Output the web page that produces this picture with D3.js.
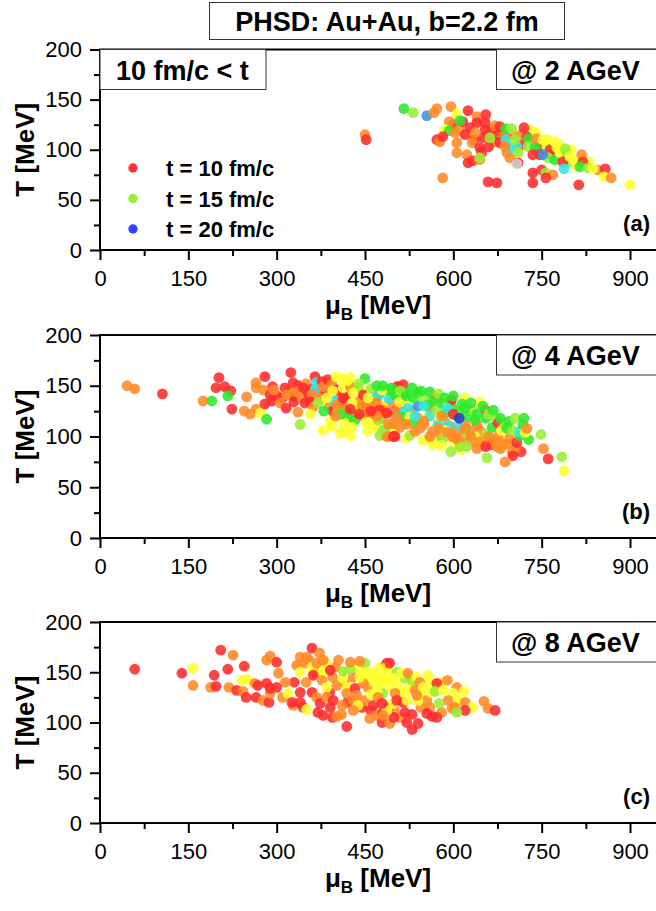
<!DOCTYPE html>
<html><head><meta charset="utf-8">
<script src="https://cdn.jsdelivr.net/npm/d3@7/dist/d3.min.js"></script>
<style>
body{margin:0;background:#fff}
svg{display:block;font-family:"Liberation Sans",Arial,sans-serif}
</style>
</head><body>
<svg id="chart" width="656" height="911"></svg>
<script>
// ---- data ----
// time steps (fm/c) used to colour the cells; 25 = grey cell
const timeSteps = [10, 12, 14, 15, 16, 18, 19, 20, 25];
const timeColors = ["#ff2b2b", "#ff8a26", "#ffff2e", "#99ee33", "#2ee82e", "#33e6e6", "#3a95e0", "#1e3ccc", "#cfcfcf"];
const xTicks = [0, 150, 300, 450, 600, 750, 900];
const xMinor = [75, 225, 375, 525, 675, 825];
const yTicks = [0, 50, 100, 150, 200];
const yMinor = [25, 75, 125, 175];
const legendTimes = [10, 15, 20];
const legendColors = ["#ff3333", "#99ee33", "#3344ff"];
const legendLabels = ["t = 10 fm/c", "t = 15 fm/c", "t = 20 fm/c"];
const energies = ["@ 2 AGeV", "@ 4 AGeV", "@ 8 AGeV"];
const tags = ["(a)", "(b)", "(c)"];

// [mu_B (MeV), T (MeV), t (fm/c)]
const panelA = [[600,125,10],[610,120,12],[620,115,10],[628,122,10],[635,110,10],[650,112,10],[665,120,10],[670,108,12],[675,115,10],[690,115,10],[700,115,12],[715,105,10],[715,115,12],[730,120,14],[740,117,14],[745,102,10],[760,110,14],[765,95,10],[780,105,14],[800,100,14],[795,88,15],[830,88,14],[845,80,12],
[516,141,16],[532,137,15],[555,134,19],[567,137,12],[572,141,12],[596,143,12],[606,136,14],[593,128,12],[625,139,10],[640,133,12],[655,135,10],[616,128,10],[611,129,16],[586,120,14],[593,119,16],[572,110,10],[577,108,12],[582,113,10],[603,117,12],[606,107,12],[606,97,12],[623,95,12],[625,87,10],[633,89,10],[632,107,12],[645,102,10],[648,97,10],[645,90,12],[645,92,15],[660,103,10],[640,127,10],[654,127,10],[654,120,10],[637,117,12],[659,114,10],[662,112,15],[671,124,12],[679,123,10],[684,113,12],[679,107,10],[691,97,12],[696,92,12],[710,87,10],[708,86,25],[689,121,16],[699,121,15],[720,122,10],[689,110,18],[698,102,18],[708,103,18],[705,110,15],[710,97,15],[688,103,12],[725,113,10],[727,111,16],[727,103,15],[739,103,16],[735,95,10],[741,111,12],[747,95,10],[752,110,14],[759,103,14],[764,100,10],[772,108,14],[776,102,14],[761,92,15],[772,90,16],[781,97,14],[790,101,15],[793,95,15],[786,88,10],[798,93,14],[807,89,14],[810,83,14],[788,81,18],[818,95,12],[820,88,10],[815,83,16],[829,82,15],[837,81,14],[858,81,10],[856,73,14],[868,72,12],[900,65,14],[813,65,10],[659,68,10],[674,67,10],[735,67,10],[750,80,10],[757,77,15],[769,75,12],[735,77,10],[582,72,12],[757,72,10],[450,115,12],[452,110,10],[752,95,19]];

const panelB = [[300,140,10],[310,138,10],[320,145,12],[330,140,10],[338,150,10],[350,152,12],[355,138,10],[360,147,10],[370,145,10],[375,138,12],[385,143,10],[390,130,12],[395,125,10],[405,140,12],[410,132,10],[418,128,12],[420,140,10],[430,125,10],[440,135,12],[445,120,12],[450,130,10],[458,133,12],[465,122,12],[470,140,10],[478,118,12],[485,130,12],[495,135,12],[500,125,10],[510,120,12],[520,115,12],[530,125,12],[540,118,12],[550,112,12],[560,128,12],[565,105,12],[575,100,12],[585,115,12],[595,110,12],[605,105,12],[615,100,12],[620,112,12],[630,95,12],[640,112,12],[650,98,12],[660,95,12],[665,92,10],[680,88,12],[695,98,12],[700,85,12],[715,85,10],
[395,110,14],[415,105,14],[455,105,14],[470,110,14],[500,106,14],[520,98,14],[565,92,14],[600,95,14],[650,95,14],[480,130,14],[450,145,14],[520,135,14],[620,138,14],[680,96,14],
[46,150,12],[59,147,12],[106,142,10],[175,135,12],[190,135,16],[202,158,10],[197,148,10],[212,149,10],[222,145,10],[217,140,16],[224,127,10],[249,139,12],[245,125,12],[255,122,12],[265,127,12],[272,123,14],[283,117,16],[265,153,12],[265,148,12],[280,159,10],[293,149,10],[277,146,12],[289,141,10],[280,132,10],[295,146,12],[292,135,10],[306,133,12],[314,148,10],[317,141,12],[324,163,10],[328,153,10],[316,128,10],[329,134,10],[334,144,12],[345,148,10],[343,138,12],[348,133,10],[336,124,12],[353,143,10],[340,112,15],[365,159,10],[367,153,18],[365,146,18],[360,141,12],[357,134,10],[362,129,12],[370,133,15],[358,122,14],[380,125,16],[377,154,10],[379,149,12],[387,156,10],[394,151,12],[396,136,18],[401,159,14],[402,146,10],[391,115,14],[379,106,14],[408,103,14],[425,101,14],[404,125,15],[402,131,12],[413,138,10],[413,148,14],[411,157,14],[425,158,14],[425,149,12],[428,133,14],[438,148,15],[450,157,16],[447,141,10],[430,143,14],[436,128,14],[445,131,12],[425,119,15],[433,116,16],[421,119,16],[414,114,14],[428,109,14],[453,124,12],[462,129,12],[452,114,14],[462,111,14],[472,116,15],[484,107,15],[475,101,15],[487,100,12],[501,100,10],[462,139,18],[474,141,18],[491,137,18],[489,146,16],[460,147,15],[470,133,12],[501,141,16],[481,126,12],[475,126,10],[504,119,18],[507,129,12],[504,149,10],[455,138,14],[492,124,12],[498,113,15],
[506,149,10],[515,151,10],[479,146,14],[518,143,16],[487,123,10],[481,106,15],[489,100,12],[498,100,10],[505,141,16],[509,134,14],[523,128,18],[518,124,18],[513,119,16],[526,119,14],[540,130,19],[532,138,16],[540,143,16],[548,138,15],[557,131,16],[555,119,14],[532,113,16],[543,108,12],[509,109,12],[498,113,12],[526,101,15],[560,144,16],[560,120,18],[569,138,12],[572,126,15],[580,133,16],[574,113,15],[577,118,14],[574,111,18],[591,111,18],[586,106,14],[598,100,12],[582,97,15],[548,96,14],[564,96,14],[580,91,14],[596,85,15],[611,94,12],[614,87,14],[623,90,15],[589,124,16],[591,134,14],[598,129,16],[597,136,10],[610,124,16],[611,111,18],[625,120,16],[633,126,15],[645,134,14],[654,126,10],[637,116,16],[655,118,16],[645,106,12],[637,100,14],[628,106,12],[657,103,15],[666,109,16],[671,119,15],[676,113,10],[676,100,12],[682,106,14],[688,111,15],[691,108,16],[691,92,12],[705,89,12],[701,81,10],[688,75,12],[708,94,10],[713,101,16],[701,106,15],[713,105,18],[718,112,16],[728,97,16],[722,104,14],[725,108,12],[657,79,15],[749,102,15],[753,88,12],[761,78,10],[784,80,15],[788,66,14],[623,103,15],[611,90,15],[674,90,12],
[480,150,16],[495,148,16],[510,145,15],[520,140,16],[530,148,16],[545,145,16],[550,130,18],[565,135,16],[575,142,15],[585,138,16],[590,128,18],[600,140,16],[605,120,15],[615,132,16],[620,128,16],[630,133,16],[640,122,16],[650,130,16],[660,122,15],[668,126,16],[680,118,16],[695,115,16],[705,118,15],[720,118,16],[535,120,18],[470,150,16],[440,152,15],[420,155,14],[395,145,14],[385,138,14],[410,122,16],
[520,112,12],[535,105,12],[550,115,12],[560,100,12],[575,108,12],[590,104,12],[605,98,12],[620,108,12],[630,100,12],[645,95,12],[660,100,12],[670,95,12],[685,93,12],[640,88,12],[655,90,10],[580,120,12],[600,122,10],[470,120,12],[490,112,12],[505,118,12],[460,125,10],[440,122,10],[425,127,10],[400,120,12],
[610,118,20]];

const panelC = [[330,140,10],[315,140,12],[300,135,10],[310,125,12],[350,140,12],[390,130,10],[370,110,10],[395,105,10],[410,108,12],[420,120,10],[430,122,12],[445,115,10],[450,122,12],[460,112,10],[490,115,10],[500,112,12],[510,105,12],[530,108,10],[545,115,12],[560,115,12],[580,110,12],
[355,162,12],[365,150,12],[375,148,14],[395,145,12],[400,155,12],[405,162,12],[415,140,12],[420,135,14],[430,145,12],[435,155,14],[445,152,14],[450,140,14],[455,135,12],[460,145,14],[460,128,14],[465,140,14],[475,155,14],[478,138,14],[490,150,14],[495,135,14],[505,138,14],[510,130,14],[520,132,14],[528,138,14],[535,132,12],[545,128,14],[555,122,12],[560,140,14],[580,140,14],[590,142,12],
[59,153,10],[139,149,10],[158,154,14],[158,137,12],[205,172,10],[226,167,12],[194,147,10],[188,135,12],[197,136,10],[217,153,10],[219,135,12],[245,156,10],[241,142,14],[250,143,14],[232,132,10],[243,131,12],[248,125,10],[265,125,10],[263,139,12],[268,137,10],[277,122,12],[287,120,10],[289,129,12],[289,134,10],[283,139,10],[283,162,12],[289,166,12],[300,160,10],[303,149,12],[319,129,14],[328,117,12],[326,120,10],[340,130,10],[340,120,10],[334,157,12],[340,165,12],[351,165,12],[360,174,10],[348,159,12],[340,150,14],[360,155,14],[368,159,12],[373,169,12],[362,147,10],[385,159,14],[382,152,14],[379,162,12],[391,152,10],[377,142,12],[385,135,14],[402,137,12],[360,130,10],[368,125,12],[374,119,10],[345,115,10],[351,113,14],[379,107,10],[402,106,12],[391,115,10],[385,125,12],[396,122,10],[411,117,12],[419,129,12],[419,96,10],[412,144,14],[413,151,15],[425,153,15],[425,160,12],[433,134,10],[436,127,12],[438,117,14],[430,112,12],[447,139,12],[441,145,14],[450,159,15],[441,161,12],[453,150,14],[458,104,12],[464,117,10],[470,107,12],[479,100,10],[492,99,12],[480,110,10],[464,150,14],[472,145,14],[484,142,14],[480,129,15],[470,132,14],[472,125,12],[487,159,10],[487,155,14],[498,119,14],[499,105,10],[501,129,12],[504,150,15],[492,159,10],[479,145,14],[487,142,14],[498,144,14],[518,144,15],[530,142,15],[512,149,14],[523,149,12],[538,145,14],[557,147,14],[543,140,12],[572,139,10],[549,135,14],[563,130,14],[569,131,15],[583,132,14],[606,135,12],[600,129,14],[618,131,14],[591,122,12],[576,119,15],[608,122,14],[620,120,12],[633,115,14],[620,112,10],[598,114,12],[603,115,12],[606,110,15],[652,121,12],[659,114,12],[671,112,10],[515,120,10],[504,122,10],[521,122,14],[540,122,14],[538,127,12],[518,110,10],[521,100,10],[530,93,10],[540,99,10],[555,109,10],[564,106,10],[572,105,10],[487,112,14],[481,107,12],[479,119,10]];

// ---- drawing ----
const svg = d3.select("#chart");
const color = d3.scaleOrdinal().domain(timeSteps).range(timeColors);
const x = d3.scaleLinear().domain([0, 960]).range([100, 100 + 960 * 530 / 900]);
const layout = [
  {data: panelA, top: 49.5, bottom: 250},
  {data: panelB, top: 335, bottom: 538},
  {data: panelC, top: 622, bottom: 823}
];

// title
svg.append("rect").attr("x", 209.5).attr("y", 2.5).attr("width", 355).attr("height", 37)
  .attr("fill", "#fff").attr("stroke", "#333").attr("stroke-width", 1);
svg.append("text").attr("x", 387).attr("y", 31).attr("text-anchor", "middle")
  .attr("font-size", 27).attr("font-weight", "bold").text("PHSD: Au+Au, b=2.2 fm");

layout.forEach((p, i) => {
  const y = d3.scaleLinear().domain([0, 200]).range([p.bottom, p.top]);
  const g = svg.append("g");

  // points
  g.append("g").selectAll("circle").data(p.data).join("circle")
    .attr("cx", d => x(d[0])).attr("cy", d => y(d[1])).attr("r", 5.4)
    .attr("fill", d => color(d[2])).attr("fill-opacity", 0.88);

  // axes
  g.append("g").attr("transform", `translate(0,${p.bottom})`)
    .call(d3.axisBottom(x).tickValues(xTicks).tickSize(10).tickPadding(10).tickFormat(d3.format("d")));
  g.append("g").attr("transform", `translate(0,${p.bottom})`)
    .call(d3.axisBottom(x).tickValues(xMinor).tickSize(6).tickFormat(""));
  g.append("g").attr("transform", `translate(100,0)`)
    .call(d3.axisLeft(y).tickValues(yTicks).tickSize(10).tickPadding(8));
  g.append("g").attr("transform", `translate(100,0)`)
    .call(d3.axisLeft(y).tickValues(yMinor).tickSize(6).tickFormat(""));
  g.selectAll(".domain").remove();
  g.selectAll(".tick line").attr("stroke", "#000").attr("stroke-width", 2);
  g.selectAll(".tick text").attr("font-size", 22).attr("fill", "#000")
    .attr("font-family", "'Liberation Sans', Arial, sans-serif");
  // frame lines
  g.append("line").attr("x1", 99).attr("x2", 656).attr("y1", p.bottom).attr("y2", p.bottom)
    .attr("stroke", "#000").attr("stroke-width", 2);
  g.append("line").attr("x1", 100).attr("x2", 100).attr("y1", p.top).attr("y2", p.bottom + 1)
    .attr("stroke", "#000").attr("stroke-width", 2);
  g.append("line").attr("x1", 99).attr("x2", 656).attr("y1", p.top).attr("y2", p.top)
    .attr("stroke", "#000").attr("stroke-width", 2);

  // axis titles
  const mu = g.append("text").attr("x", 378).attr("y", p.bottom + 64).attr("text-anchor", "middle")
    .attr("font-size", 26).attr("font-weight", "bold");
  mu.append("tspan").text("\u03BC");
  mu.append("tspan").attr("font-size", 17).attr("dy", 6).text("B");
  mu.append("tspan").attr("dy", -6).text(" [MeV]");
  g.append("text").attr("transform", `translate(34,${(p.top + p.bottom) / 2}) rotate(-90)`)
    .attr("text-anchor", "middle").attr("font-size", 26).attr("font-weight", "bold").text("T [MeV]");

  // energy box
  g.append("rect").attr("x", 496.5).attr("y", p.top).attr("width", 170).attr("height", 40)
    .attr("fill", "#fff").attr("stroke", "#333").attr("stroke-width", 1);
  g.append("text").attr("x", 511).attr("y", p.top + 30).attr("font-size", 27).attr("font-weight", "bold")
    .text(energies[i]);
  // panel tag
  g.append("text").attr("x", 650).attr("y", p.bottom - 19).attr("text-anchor", "end")
    .attr("font-size", 22).attr("font-weight", "bold").text(tags[i]);

  if (i === 0) {
    g.append("rect").attr("x", 100).attr("y", p.top).attr("width", 166).attr("height", 40)
      .attr("fill", "#fff").attr("stroke", "#333").attr("stroke-width", 1);
    g.append("text").attr("x", 116).attr("y", p.top + 30).attr("font-size", 27).attr("font-weight", "bold")
      .text("10 fm/c < t");
    legendTimes.forEach((t, k) => {
      g.append("circle").attr("cx", 133).attr("cy", 168 + k * 30.5).attr("r", 4.7).attr("fill", legendColors[k]);
      g.append("text").attr("x", 166).attr("y", 176 + k * 30.5).attr("font-size", 22).attr("font-weight", "bold")
        .text(legendLabels[k]);
    });
  }
});
</script>
</body></html>
